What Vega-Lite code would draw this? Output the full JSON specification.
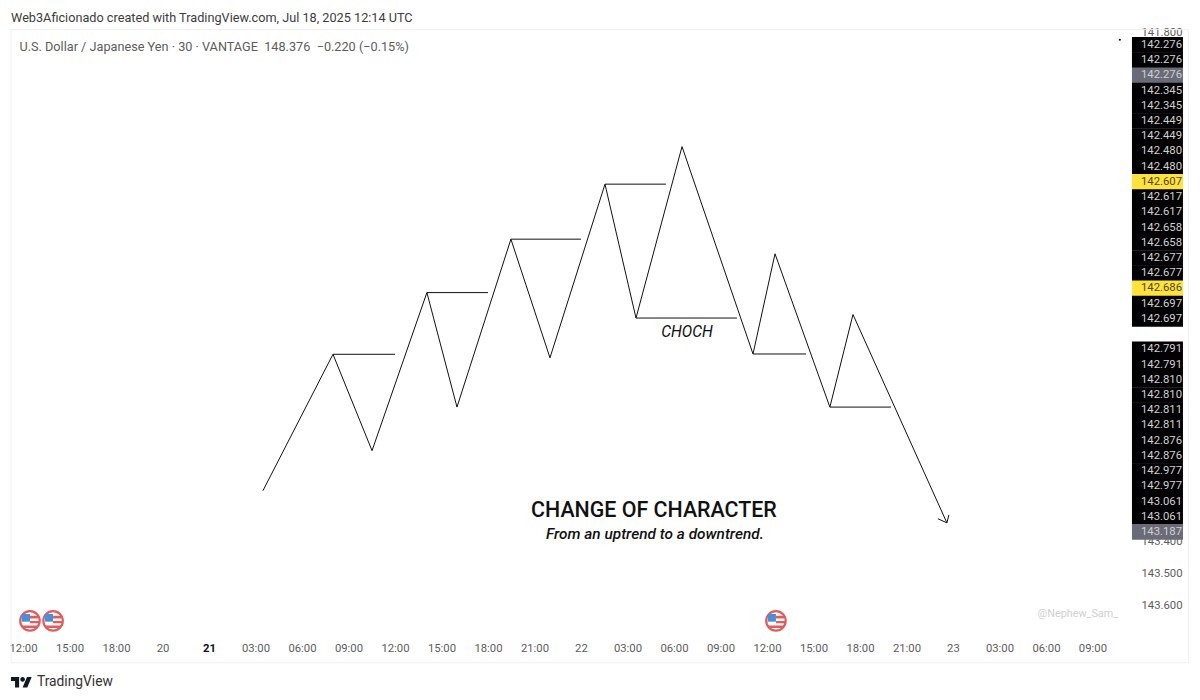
{
  "$schema": "https://vega.github.io/schema/vega-lite/v6.json",
  "autosize": {"type": "fit", "contains": "padding"},
  "width": 1200,
  "height": 700,
  "padding": 0,
  "background": "white",
  "config": {"view": {"stroke": null}, "text": {"font": "Roboto"}},
  "datasets": {
    "strokes": [
      {"path": "swing", "hour": 15.48, "price": 143.24},
      {"path": "swing", "hour": 20.0, "price": 142.811},
      {"path": "swing", "hour": 22.52, "price": 143.114},
      {"path": "swing", "hour": 26.06, "price": 142.617},
      {"path": "swing", "hour": 28.0, "price": 142.977},
      {"path": "swing", "hour": 31.48, "price": 142.449},
      {"path": "swing", "hour": 34.0, "price": 142.822},
      {"path": "swing", "hour": 37.55, "price": 142.276},
      {"path": "swing", "hour": 39.55, "price": 142.697},
      {"path": "swing", "hour": 42.52, "price": 142.158},
      {"path": "swing", "hour": 47.1, "price": 142.81},
      {"path": "swing", "hour": 48.52, "price": 142.495},
      {"path": "swing", "hour": 52.06, "price": 142.977},
      {"path": "swing", "hour": 53.55, "price": 142.686},
      {"path": "swing", "hour": 59.61, "price": 143.341},
      {"path": "level1", "hour": 20.0, "price": 142.811},
      {"path": "level1", "hour": 24.0, "price": 142.811},
      {"path": "level2", "hour": 26.06, "price": 142.617},
      {"path": "level2", "hour": 30.0, "price": 142.617},
      {"path": "level3", "hour": 31.48, "price": 142.449},
      {"path": "level3", "hour": 36.0, "price": 142.449},
      {"path": "level4", "hour": 37.55, "price": 142.276},
      {"path": "level4", "hour": 41.48, "price": 142.276},
      {"path": "choch", "hour": 39.55, "price": 142.697},
      {"path": "choch", "hour": 46.06, "price": 142.697},
      {"path": "level5", "hour": 47.1, "price": 142.81},
      {"path": "level5", "hour": 50.52, "price": 142.81},
      {"path": "level6", "hour": 52.06, "price": 142.977},
      {"path": "level6", "hour": 56.0, "price": 142.977},
      {"path": "head1", "hour": 59.03, "price": 143.328},
      {"path": "head1", "hour": 59.61, "price": 143.341},
      {"path": "head2", "hour": 59.61, "price": 143.341},
      {"path": "head2", "hour": 59.74, "price": 143.316}
    ],
    "badges": [
      {"slot": 0, "label": "142.276", "kind": "level"},
      {"slot": 1, "label": "142.276", "kind": "level"},
      {"slot": 2, "label": "142.276", "kind": "end"},
      {"slot": 3, "label": "142.345", "kind": "level"},
      {"slot": 4, "label": "142.345", "kind": "level"},
      {"slot": 5, "label": "142.449", "kind": "level"},
      {"slot": 6, "label": "142.449", "kind": "level"},
      {"slot": 7, "label": "142.480", "kind": "level"},
      {"slot": 8, "label": "142.480", "kind": "level"},
      {"slot": 9, "label": "142.607", "kind": "alert"},
      {"slot": 10, "label": "142.617", "kind": "level"},
      {"slot": 11, "label": "142.617", "kind": "level"},
      {"slot": 12, "label": "142.658", "kind": "level"},
      {"slot": 13, "label": "142.658", "kind": "level"},
      {"slot": 14, "label": "142.677", "kind": "level"},
      {"slot": 15, "label": "142.677", "kind": "level"},
      {"slot": 16, "label": "142.686", "kind": "alert"},
      {"slot": 17, "label": "142.697", "kind": "level"},
      {"slot": 18, "label": "142.697", "kind": "level"},
      {"slot": 20, "label": "142.791", "kind": "level"},
      {"slot": 21, "label": "142.791", "kind": "level"},
      {"slot": 22, "label": "142.810", "kind": "level"},
      {"slot": 23, "label": "142.810", "kind": "level"},
      {"slot": 24, "label": "142.811", "kind": "level"},
      {"slot": 25, "label": "142.811", "kind": "level"},
      {"slot": 26, "label": "142.876", "kind": "level"},
      {"slot": 27, "label": "142.876", "kind": "level"},
      {"slot": 28, "label": "142.977", "kind": "level"},
      {"slot": 29, "label": "142.977", "kind": "level"},
      {"slot": 30, "label": "143.061", "kind": "level"},
      {"slot": 31, "label": "143.061", "kind": "level"},
      {"slot": 32, "label": "143.187", "kind": "end"}
    ],
    "flags": [
      {"hour": 0.45, "price": 143.649},
      {"hour": 1.94, "price": 143.649},
      {"hour": 48.58, "price": 143.649}
    ]
  },
  "layer": [
    {
      "data": {"values": [{"kind": "frame"}]},
      "mark": {"type": "rect", "fill": null, "stroke": "#efefef", "strokeWidth": 1},
      "encoding": {
        "x": {
          "datum": -0.77,
          "type": "quantitative",
          "scale": {"domain": [-1.484, 75.94], "nice": false, "zero": false},
          "axis": {
            "title": null,
            "orient": "bottom",
            "offset": -58,
            "values": [0, 3, 6, 9, 12, 15, 18, 21, 24, 27, 30, 33, 36, 39, 42, 45, 48, 51, 54, 57, 60, 63, 66, 69],
            "labelExpr": "['12:00','15:00','18:00','20','21','03:00','06:00','09:00','12:00','15:00','18:00','21:00','22','03:00','06:00','09:00','12:00','15:00','18:00','21:00','23','03:00','06:00','09:00'][datum.value / 3]",
            "domain": false,
            "ticks": false,
            "grid": false,
            "labelPadding": 0,
            "labelBaseline": "top",
            "labelFont": "Roboto",
            "labelFontSize": 11.3,
            "labelColor": {"condition": {"test": "datum.value === 12", "value": "#111111"}, "value": "#5c5c5c"},
            "labelFontWeight": {"condition": {"test": "datum.value === 12", "value": "bold"}, "value": "normal"},
            "labelOverlap": false,
            "labelFlush": false
          }
        },
        "x2": {"datum": 75.2},
        "y": {
          "datum": 141.79,
          "type": "quantitative",
          "title": null,
          "scale": {"domain": [141.697, 143.898], "reverse": true, "nice": false, "zero": false},
          "axis": {
            "orient": "right",
            "offset": -59,
            "values": [141.8, 143.4, 143.5, 143.6],
            "format": ".3f",
            "domain": false,
            "ticks": false,
            "grid": false,
            "labelPadding": 0,
            "labelFont": "Roboto",
            "labelFontSize": 11.3,
            "labelColor": "#5c5c5c",
            "labelOverlap": false,
            "labelFlush": false
          }
        },
        "y2": {"datum": 143.781}
      }
    },
    {
      "data": {"name": "strokes"},
      "mark": {"type": "line", "color": "#111111", "strokeWidth": 1},
      "encoding": {
        "x": {"field": "hour", "type": "quantitative"},
        "y": {
          "field": "price",
          "type": "quantitative",
          "scale": {"domain": [141.697, 143.898], "reverse": true, "nice": false, "zero": false},
          "axis": null
        },
        "detail": {"field": "path"}
      }
    },
    {
      "data": {"name": "flags"},
      "mark": {"type": "point", "shape": "circle", "filled": true, "fill": "white", "stroke": "#e25c5c", "strokeWidth": 2.2, "size": 380, "opacity": 1},
      "encoding": {
        "x": {"field": "hour", "type": "quantitative"},
        "y": {
          "field": "price",
          "type": "quantitative",
          "scale": {"domain": [141.697, 143.898], "reverse": true, "nice": false, "zero": false},
          "axis": null
        }
      }
    },
    {
      "data": {"name": "flags"},
      "mark": {"type": "point", "shape": "M-0.75,-0.62H0V0.08H-0.75Z", "filled": true, "color": "#4a90d9", "size": 484, "opacity": 1},
      "encoding": {
        "x": {"field": "hour", "type": "quantitative"},
        "y": {
          "field": "price",
          "type": "quantitative",
          "scale": {"domain": [141.697, 143.898], "reverse": true, "nice": false, "zero": false},
          "axis": null
        }
      }
    },
    {
      "data": {"name": "flags"},
      "mark": {"type": "point", "shape": "M0,-0.45H0.78V-0.2H0Z M0,0.02H0.85V0.22H0Z M-0.72,0.42H0.72V0.66H-0.72Z", "filled": true, "color": "#e25c5c", "size": 484, "opacity": 1},
      "encoding": {
        "x": {"field": "hour", "type": "quantitative"},
        "y": {
          "field": "price",
          "type": "quantitative",
          "scale": {"domain": [141.697, 143.898], "reverse": true, "nice": false, "zero": false},
          "axis": null
        }
      }
    },
    {
      "data": {"values": [{"hour": 70.77, "price": 141.822}]},
      "mark": {"type": "point", "shape": "circle", "filled": true, "color": "#111111", "size": 5, "opacity": 1},
      "encoding": {
        "x": {"field": "hour", "type": "quantitative"},
        "y": {
          "field": "price",
          "type": "quantitative",
          "scale": {"domain": [141.697, 143.898], "reverse": true, "nice": false, "zero": false},
          "axis": null
        }
      }
    },
    {
      "data": {"values": [{"hour": -0.1, "price": 143.844}]},
      "mark": {"type": "point", "shape": "M-0.222,0.444H-0.611V-0.167H-1V-0.556H-0.222Z M0.556,0.444H0.111L0.528,-0.556H0.972Z M-0.111,-0.333a0.222,0.222 0 1,0 0.444,0a0.222,0.222 0 1,0 -0.444,0Z", "filled": true, "color": "#131722", "size": 441, "opacity": 1},
      "encoding": {
        "x": {"field": "hour", "type": "quantitative"},
        "y": {
          "field": "price",
          "type": "quantitative",
          "scale": {"domain": [141.697, 143.898], "reverse": true, "nice": false, "zero": false},
          "axis": null
        }
      }
    },
    {
      "data": {"name": "badges"},
      "mark": {"type": "rule", "strokeWidth": 15.7},
      "encoding": {
        "x": {"datum": 71.55, "type": "quantitative"},
        "x2": {"datum": 74.84},
        "y": {
          "field": "slot",
          "type": "quantitative",
          "scale": {"domain": [-2.95, 43.04], "reverse": true, "nice": false, "zero": false},
          "axis": null
        },
        "color": {
          "field": "kind",
          "type": "nominal",
          "scale": {"domain": ["level", "end", "alert"], "range": ["#000000", "#696b78", "#ffe23b"]},
          "legend": null
        }
      }
    },
    {
      "data": {"name": "badges"},
      "mark": {"type": "text", "align": "left", "baseline": "middle", "fontSize": 11.3},
      "encoding": {
        "x": {"datum": 72.13, "type": "quantitative"},
        "y": {
          "field": "slot",
          "type": "quantitative",
          "scale": {"domain": [-2.95, 43.04], "reverse": true, "nice": false, "zero": false},
          "axis": null
        },
        "text": {"field": "label"},
        "color": {"condition": {"test": "datum.kind === 'alert'", "value": "#4a4a30"}, "value": "#d0d0d0"}
      }
    },
    {
      "data": {"values": [
        {"note": "Web3Aficionado created with TradingView.com, Jul 18, 2025 12:14 UTC", "hour": -0.77, "price": 141.753}
      ]},
      "mark": {"type": "text", "align": "left", "baseline": "middle", "fontSize": 12.7, "color": "#3c3c3c"},
      "encoding": {
        "x": {"field": "hour", "type": "quantitative"},
        "y": {"field": "price", "type": "quantitative", "scale": {"domain": [141.697, 143.898], "reverse": true, "nice": false, "zero": false}, "axis": null},
        "text": {"field": "note"}
      }
    },
    {
      "data": {"values": [
        {"note": "U.S. Dollar / Japanese Yen · 30 · VANTAGE\u00a0\u00a0148.376\u00a0\u00a0−0.220 (−0.15%)", "hour": -0.23, "price": 141.844}
      ]},
      "mark": {"type": "text", "align": "left", "baseline": "middle", "fontSize": 12.7, "color": "#5c5c5c"},
      "encoding": {
        "x": {"field": "hour", "type": "quantitative"},
        "y": {"field": "price", "type": "quantitative", "scale": {"domain": [141.697, 143.898], "reverse": true, "nice": false, "zero": false}, "axis": null},
        "text": {"field": "note"}
      }
    },
    {
      "data": {"values": [
        {"note": "CHANGE OF CHARACTER", "hour": 40.71, "price": 143.303}
      ]},
      "mark": {"type": "text", "align": "center", "baseline": "middle", "fontSize": 21.4, "fontWeight": 500, "color": "#111111"},
      "encoding": {
        "x": {"field": "hour", "type": "quantitative"},
        "y": {"field": "price", "type": "quantitative", "scale": {"domain": [141.697, 143.898], "reverse": true, "nice": false, "zero": false}, "axis": null},
        "text": {"field": "note"}
      }
    },
    {
      "data": {"values": [
        {"note": "From an uptrend to a downtrend.", "hour": 40.77, "price": 143.375}
      ]},
      "mark": {"type": "text", "align": "center", "baseline": "middle", "fontSize": 15.4, "fontWeight": 500, "fontStyle": "italic", "color": "#111111"},
      "encoding": {
        "x": {"field": "hour", "type": "quantitative"},
        "y": {"field": "price", "type": "quantitative", "scale": {"domain": [141.697, 143.898], "reverse": true, "nice": false, "zero": false}, "axis": null},
        "text": {"field": "note"}
      }
    },
    {
      "data": {"values": [
        {"note": "CHOCH", "hour": 42.84, "price": 142.74}
      ]},
      "mark": {"type": "text", "align": "center", "baseline": "middle", "fontSize": 15.6, "fontStyle": "italic", "color": "#111111"},
      "encoding": {
        "x": {"field": "hour", "type": "quantitative"},
        "y": {"field": "price", "type": "quantitative", "scale": {"domain": [141.697, 143.898], "reverse": true, "nice": false, "zero": false}, "axis": null},
        "text": {"field": "note"}
      }
    },
    {
      "data": {"values": [
        {"note": "@Nephew_Sam_", "hour": 70.65, "price": 143.627}
      ]},
      "mark": {"type": "text", "align": "right", "baseline": "middle", "fontSize": 10.8, "color": "#cfcfcf"},
      "encoding": {
        "x": {"field": "hour", "type": "quantitative"},
        "y": {"field": "price", "type": "quantitative", "scale": {"domain": [141.697, 143.898], "reverse": true, "nice": false, "zero": false}, "axis": null},
        "text": {"field": "note"}
      }
    },
    {
      "data": {"values": [
        {"note": "TradingView", "hour": 0.9, "price": 143.841}
      ]},
      "mark": {"type": "text", "align": "left", "baseline": "middle", "fontSize": 13.8, "color": "#333333"},
      "encoding": {
        "x": {"field": "hour", "type": "quantitative"},
        "y": {"field": "price", "type": "quantitative", "scale": {"domain": [141.697, 143.898], "reverse": true, "nice": false, "zero": false}, "axis": null},
        "text": {"field": "note"}
      }
    }
  ],
  "resolve": {"scale": {"y": "independent"}}
}
